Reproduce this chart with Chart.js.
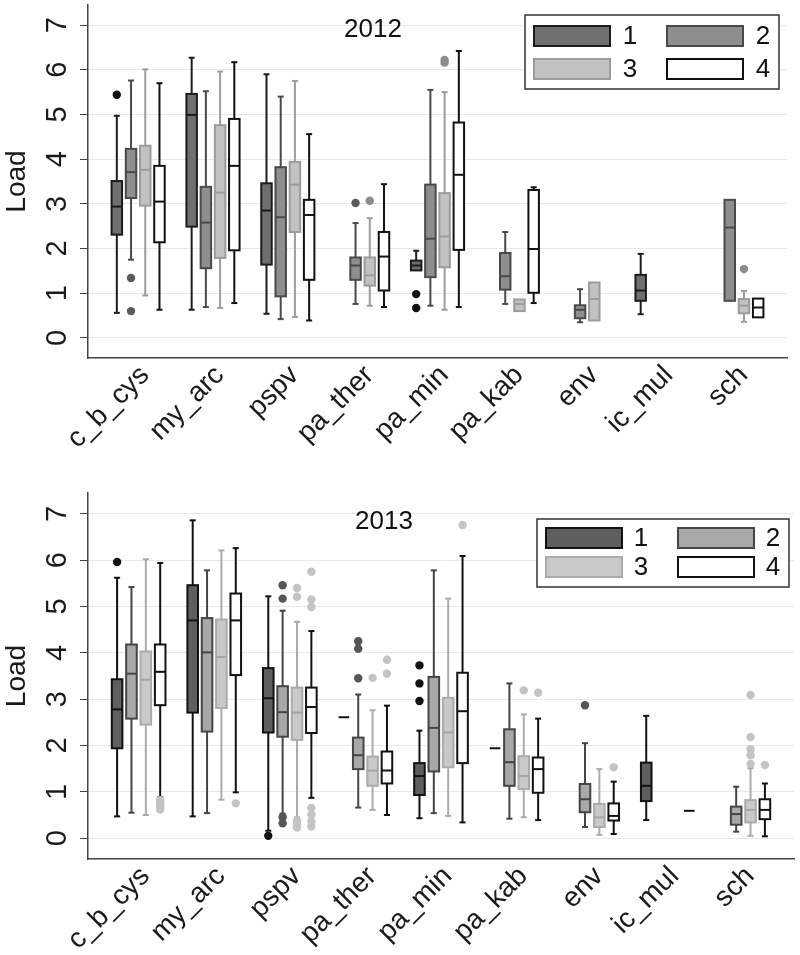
<!DOCTYPE html>
<html>
<head>
<meta charset="utf-8">
<script src="https://cdn.jsdelivr.net/npm/chart.js@4.4.1/dist/chart.umd.min.js"></script>
<style>
body { margin: 0; background: #fff; }
canvas { display: block; }
</style>
</head>
<body>
<canvas id="chart2012" width="800" height="480"></canvas>
<canvas id="chart2013" width="800" height="475"></canvas>
<script>
var categories = ['c_b_cys', 'my_arc', 'pspv', 'pa_ther', 'pa_min', 'pa_kab', 'env', 'ic_mul', 'sch'];
var groupNames = ['1', '2', '3', '4'];
var yTicks = [0, 1, 2, 3, 4, 5, 6, 7];

// cada caja: [bigote inferior, q1, mediana, q3, bigote superior]; null = sin datos
var box2012_1 = [[0.56, 2.31, 2.94, 3.51, 4.97], [0.63, 2.49, 4.99, 5.46, 6.27], [0.54, 1.64, 2.85, 3.46, 5.90], null,
                 [1.51, 1.51, 1.62, 1.73, 1.95], null, null, [0.53, 0.83, 1.06, 1.41, 1.88], null];
var box2012_2 = [[1.75, 3.13, 3.71, 4.23, 5.76], [0.69, 1.56, 2.58, 3.38, 5.52], [0.42, 0.93, 2.70, 3.82, 5.40],
                 [0.76, 1.30, 1.62, 1.80, 2.57], [0.72, 1.36, 2.22, 3.43, 5.55], [0.76, 1.08, 1.38, 1.90, 2.37],
                 [0.35, 0.44, 0.63, 0.73, 1.09], null, [0.83, 0.83, 2.47, 3.09, 3.09]];
var box2012_3 = [[0.95, 2.96, 3.76, 4.30, 6.01], [0.67, 1.79, 3.25, 4.76, 5.96], [0.47, 2.37, 3.43, 3.94, 5.75],
                 [0.72, 1.17, 1.40, 1.80, 2.68], [0.63, 1.58, 2.27, 3.24, 5.50], [0.60, 0.60, 0.76, 0.86, 0.86],
                 [0.39, 0.39, 0.87, 1.24, 1.24], null, [0.36, 0.55, 0.72, 0.87, 1.05]];
var box2012_4 = [[0.63, 2.14, 3.05, 3.85, 5.70], [0.78, 1.96, 3.85, 4.90, 6.17], [0.39, 1.30, 2.75, 3.09, 4.56],
                 [0.69, 1.06, 1.82, 2.37, 3.44], [0.69, 1.97, 3.65, 4.82, 6.42], [0.78, 1.01, 1.99, 3.31, 3.37],
                 null, null, [0.46, 0.46, 0.68, 0.88, 0.88]];
var out2012_1 = [[5.44], [], [], [], [0.98, 0.67], [], [], [], []];
var out2012_2 = [[1.34, 0.60], [], [], [3.02], [], [], [], [], []];
var out2012_3 = [[], [], [], [3.07], [6.22, 6.16], [], [], [], [1.54]];
var out2012_4 = [[], [], [], [], [], [], [], [], []];

var box2013_1 = [[0.47, 1.94, 2.78, 3.43, 5.62], [0.47, 2.71, 4.70, 5.46, 6.86], [0.16, 2.28, 3.02, 3.67, 5.22],
                 [2.61, 2.61, 2.61, 2.61, 2.61], [0.43, 0.93, 1.34, 1.62, 2.32], [1.94, 1.94, 1.94, 1.94, 1.94],
                 null, [0.39, 0.80, 1.13, 1.63, 2.64], null];
var box2013_2 = [[0.55, 2.58, 3.55, 4.18, 5.42], [0.54, 2.30, 4.01, 4.75, 5.78], [0.53, 2.19, 2.72, 3.28, 4.91],
                 [0.66, 1.49, 1.79, 2.17, 3.10], [0.54, 1.44, 2.38, 3.48, 5.78], [0.42, 1.13, 1.64, 2.35, 3.34],
                 [0.24, 0.56, 0.84, 1.17, 2.05], null, [0.14, 0.29, 0.52, 0.68, 1.11]];
var box2013_3 = [[0.50, 2.45, 3.42, 4.03, 6.02], [0.83, 2.81, 3.91, 4.72, 6.21], [0.45, 2.12, 2.71, 3.25, 4.67],
                 [0.61, 1.13, 1.46, 1.76, 2.76], [0.48, 1.53, 2.28, 3.03, 5.17], [0.45, 1.06, 1.34, 1.77, 2.67],
                 [0.07, 0.24, 0.45, 0.74, 1.49], null, [0.05, 0.34, 0.61, 0.82, 1.51]];
var box2013_4 = [[0.88, 2.87, 3.59, 4.18, 5.94], [0.99, 3.52, 4.70, 5.28, 6.26], [0.87, 2.27, 2.83, 3.25, 4.47],
                 [0.50, 1.18, 1.46, 1.87, 2.86], [0.34, 1.62, 2.74, 3.57, 6.09], [0.39, 0.98, 1.49, 1.74, 2.58],
                 [0.09, 0.38, 0.48, 0.75, 1.22], [0.59, 0.59, 0.59, 0.59, 0.59], [0.04, 0.41, 0.61, 0.84, 1.18]];
var out2013_1 = [[5.96], [], [0.05], [], [3.73, 3.34, 2.96], [], [], [], []];
var out2013_2 = [[], [], [5.46, 5.17, 0.45, 0.32], [4.25, 4.09, 3.45], [], [], [2.87], [], []];
var out2013_3 = [[], [], [5.40, 5.21, 0.38, 0.30, 0.23], [3.46], [], [3.19], [], [], [3.09, 2.18, 1.92, 1.79, 1.60]];
var out2013_4 = [[0.82, 0.77, 0.72, 0.67, 0.62], [0.75], [5.75, 5.15, 4.99, 0.65, 0.51, 0.36, 0.25], [3.85, 3.55],
                 [6.76], [3.14], [1.53], [], [1.58]];

var slot = [-0.285, -0.095, 0.095, 0.285];
var anchoCaja = 0.14;
var anchoTope = 0.08;
var fuente = 'Liberation Sans, Arial, sans-serif';

var colores2012 = [
	{relleno: '#6f6f6f', borde: '#1c1c1c', mediana: '#1c1c1c', punto: '#111111'},
	{relleno: '#8e8e8e', borde: '#4a4a4a', mediana: '#4a4a4a', punto: '#5a5a5a'},
	{relleno: '#c2c2c2', borde: '#9c9c9c', mediana: '#9c9c9c', punto: '#8c8c8c'},
	{relleno: '#ffffff', borde: '#111111', mediana: '#111111', punto: '#c4c4c4'}
];
var colores2013 = [
	{relleno: '#5f5f5f', borde: '#111111', mediana: '#111111', punto: '#111111'},
	{relleno: '#a8a8a8', borde: '#454545', mediana: '#454545', punto: '#555555'},
	{relleno: '#c9c9c9', borde: '#ababab', mediana: '#a4a4a4', punto: '#c4c4c4'},
	{relleno: '#ffffff', borde: '#111111', mediana: '#111111', punto: '#c4c4c4'}
];

function linea(ctx, x1, y1, x2, y2)
{
	ctx.beginPath();
	ctx.moveTo(x1, y1);
	ctx.lineTo(x2, y2);
	ctx.stroke();
}

function dibujaCajas(chart, opts)
{
	var ctx = chart.ctx, x = chart.scales.x, y = chart.scales.y;
	var unidad = x.getPixelForValue(1) - x.getPixelForValue(0);
	var medio = anchoCaja * unidad / 2, tope = anchoTope * unidad / 2;
	ctx.save();
	ctx.lineWidth = 2;
	opts.cajas.forEach(function(serie, k) {
		var c = opts.colores[k];
		serie.forEach(function(b, i) {
			if(!b) return;
			var cx = x.getPixelForValue(i + slot[k]);
			var lo = y.getPixelForValue(b[0]), q1 = y.getPixelForValue(b[1]), med = y.getPixelForValue(b[2]);
			var q3 = y.getPixelForValue(b[3]), hi = y.getPixelForValue(b[4]);
			ctx.strokeStyle = c.borde;
			if(q3 - hi > 0.5)
			{
				linea(ctx, cx, q3, cx, hi);
				linea(ctx, cx - tope, hi, cx + tope, hi);
			}
			if(lo - q1 > 0.5)
			{
				linea(ctx, cx, q1, cx, lo);
				linea(ctx, cx - tope, lo, cx + tope, lo);
			}
			if(q1 - q3 > 0.5)
			{
				ctx.fillStyle = c.relleno;
				ctx.fillRect(cx - medio, q3, 2 * medio, q1 - q3);
				ctx.strokeRect(cx - medio, q3, 2 * medio, q1 - q3);
			}
			ctx.strokeStyle = c.mediana;
			linea(ctx, cx - medio, med, cx + medio, med);
		});
	});
	ctx.restore();
}

function dibujaLeyenda(chart, opts)
{
	var ctx = chart.ctx, L = opts.leyenda;
	ctx.save();
	ctx.fillStyle = '#ffffff';
	ctx.fillRect(L.x, L.y, L.w, L.h);
	ctx.strokeStyle = '#333333';
	ctx.lineWidth = 1.5;
	ctx.strokeRect(L.x, L.y, L.w, L.h);
	ctx.font = '26px ' + fuente;
	ctx.textAlign = 'center';
	ctx.textBaseline = 'middle';
	for(var k = 0; k < groupNames.length; k++)
	{
		var bx = L.x + 9 + (k % 2) * L.col;
		var by = L.y + L.top + Math.floor(k / 2) * L.fila;
		var c = opts.colores[k];
		ctx.fillStyle = c.relleno;
		ctx.fillRect(bx, by, 76, 20);
		ctx.lineWidth = 2;
		ctx.strokeStyle = c.borde;
		ctx.strokeRect(bx, by, 76, 20);
		ctx.fillStyle = '#111111';
		ctx.fillText(groupNames[k], bx + L.texto, by + 11);
	}
	ctx.font = '26px ' + fuente;
	ctx.fillText(opts.titulo, opts.tituloX, opts.tituloY);
	ctx.restore();
}

var cajasPlugin = {
	id: 'cajas',
	beforeDatasetsDraw: function(chart, args, opts) { dibujaCajas(chart, opts); },
	afterDraw: function(chart, args, opts) { dibujaLeyenda(chart, opts); }
};

function puntos(outliers, k)
{
	var lista = [];
	outliers.forEach(function(vals, i) {
		vals.forEach(function(v) { lista.push({x: i + slot[k], y: v}); });
	});
	return lista;
}

function generaGrafico(id, titulo, cajas, outs, colores, leyenda, tituloX, tituloY, padRight, padTop, altoX)
{
	var datasets = outs.map(function(o, k) {
		return {
			label: groupNames[k],
			data: puntos(o, k),
			pointRadius: 4.2,
			pointHoverRadius: 4.2,
			backgroundColor: colores[k].punto,
			borderWidth: 0
		};
	});

	new Chart(document.getElementById(id), {
		type: 'scatter',
		data: { datasets: datasets },
		options: {
			responsive: false,
			animation: false,
			devicePixelRatio: 1,
			layout: { padding: { top: padTop, right: padRight, left: 0, bottom: 0 } },
			plugins: {
				legend: { display: false },
				tooltip: { enabled: false },
				cajas: { cajas: cajas, colores: colores, leyenda: leyenda, titulo: titulo, tituloX: tituloX, tituloY: tituloY }
			},
			scales: {
				x: {
					type: 'linear',
					min: -0.67,
					max: 8.67,
					grid: { display: false, drawTicks: false },
					border: { display: true, color: '#444444', width: 1.5 },
					afterBuildTicks: function(s) {
						s.ticks = categories.map(function(c, i) { return {value: i + 0.09}; });
					},
					afterFit: function(s) {
						s.height = altoX;
						s.paddingLeft = 0;
						s.paddingRight = 0;
					},
					ticks: {
						autoSkip: false,
						minRotation: 45,
						maxRotation: 45,
						padding: 1,
						color: '#1a1a1a',
						font: { family: fuente, size: 28 },
						callback: function(v, i) { return categories[i]; }
					}
				},
				y: {
					min: -0.45,
					max: 7.45,
					grid: { color: '#e8e8e8', lineWidth: 1, tickColor: '#444444', tickLength: 8 },
					border: { display: true, color: '#444444', width: 1.5 },
					afterBuildTicks: function(s) {
						s.ticks = yTicks.map(function(v) { return {value: v}; });
					},
					afterFit: function(s) {
						s.width = 88;
						s.paddingTop = 0;
						s.paddingBottom = 0;
					},
					title: {
						display: true,
						text: 'Load',
						color: '#1a1a1a',
						font: { family: fuente, size: 28 },
						padding: 0
					},
					ticks: {
						minRotation: 90,
						maxRotation: 90,
						crossAlign: 'center',
						padding: 14,
						color: '#1a1a1a',
						font: { family: fuente, size: 29 }
					}
				}
			}
		},
		plugins: [cajasPlugin]
	});
}

generaGrafico('chart2012', '2012',
	[box2012_1, box2012_2, box2012_3, box2012_4],
	[out2012_1, out2012_2, out2012_3, out2012_4],
	colores2012,
	{x: 525, y: 15, w: 254, h: 74, col: 133, fila: 33, top: 11, texto: 96},
	373, 30, 13, 5, 122);

generaGrafico('chart2013', '2013',
	[box2013_1, box2013_2, box2013_3, box2013_4],
	[out2013_1, out2013_2, out2013_3, out2013_4],
	colores2013,
	{x: 537, y: 39, w: 252, h: 68, col: 132, fila: 29, top: 9, texto: 95},
	384, 42, 6, 13, 96);
</script>
</body>
</html>
